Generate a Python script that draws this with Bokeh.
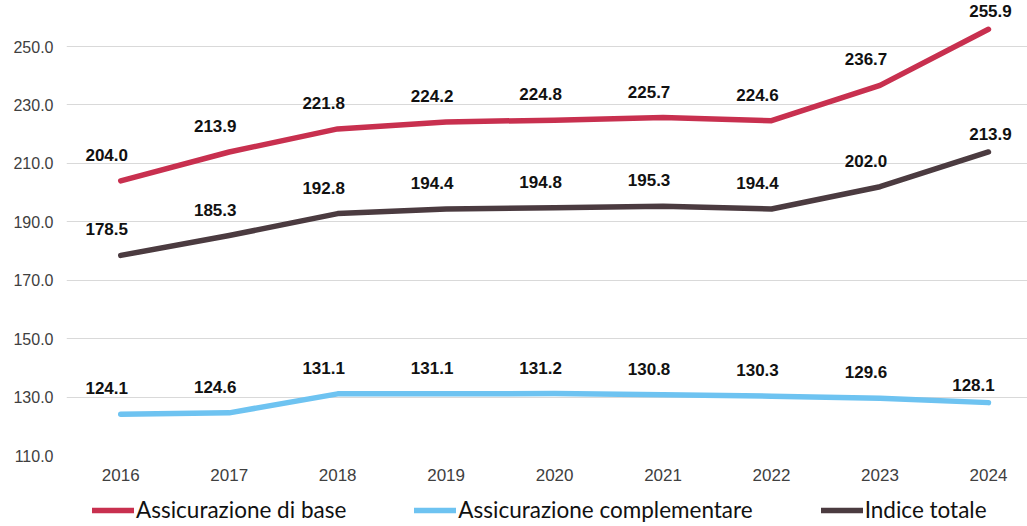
from bokeh.plotting import figure
from bokeh.layouts import column
from bokeh.models import (Legend, LegendItem, FixedTicker, NumeralTickFormatter,
                          Range1d, ColumnDataSource)
from bokeh.embed import file_html
from bokeh.resources import INLINE
from bokeh.core.properties import value

years = [2016, 2017, 2018, 2019, 2020, 2021, 2022, 2023, 2024]
base = [204.0, 213.9, 221.8, 224.2, 224.8, 225.7, 224.6, 236.7, 255.9]
complementare = [124.1, 124.6, 131.1, 131.1, 131.2, 130.8, 130.3, 129.6, 128.1]
totale = [178.5, 185.3, 192.8, 194.4, 194.8, 195.3, 194.4, 202.0, 213.9]
series_names = ["Assicurazione di base", "Assicurazione complementare", "Indice totale"]
y_ticks = [110, 130, 150, 170, 190, 210, 230, 250]

colors = ["#C8304F", "#6EC3F1", "#4B3B40"]
series = [base, complementare, totale]

W = 1027
p = figure(width=W, height=490, output_backend="svg", toolbar_location=None,
           x_range=Range1d(2015.5, 2024.36), y_range=Range1d(110, 265.75),
           min_border_left=66, min_border_right=0, min_border_top=0,
           min_border_bottom=35)
p.outline_line_color = None
p.background_fill_color = "white"
p.border_fill_color = "white"

p.xgrid.grid_line_color = None
p.ygrid.grid_line_color = "#D9D9D9"
p.ygrid.grid_line_width = 1
p.ygrid.ticker = FixedTicker(ticks=y_ticks)

p.yaxis.ticker = FixedTicker(ticks=y_ticks)
p.yaxis.formatter = NumeralTickFormatter(format="0.0")
p.xaxis.ticker = FixedTicker(ticks=years)
p.xaxis.formatter = NumeralTickFormatter(format="0")
for ax in (p.xaxis[0], p.yaxis[0]):
    ax.axis_line_color = None
    ax.major_tick_line_color = None
    ax.minor_tick_line_color = None
    ax.major_tick_out = 0
    ax.major_tick_in = 0
    ax.major_label_text_font = "Liberation Sans"
    ax.major_label_text_color = "#404040"
p.yaxis.major_label_text_font_size = "16px"
p.xaxis.major_label_text_font_size = "17px"
p.yaxis.major_label_standoff = 13
p.xaxis.major_label_standoff = 13

for i, (vals, col) in enumerate(zip(series, colors)):
    p.line(years, vals, line_color=col, line_width=5.5, line_cap="round",
           line_join="round")
    txt = [f"{v:.1f}" for v in vals]
    src_a = ColumnDataSource(dict(x=years[:-1], y=vals[:-1], t=txt[:-1]))
    src_b = ColumnDataSource(dict(x=years[-1:], y=vals[-1:], t=txt[-1:]))
    common = dict(text_align="center", text_baseline="middle",
                  text_font=value("Liberation Sans"), text_font_style="bold",
                  text_font_size="17px", text_color="#111111")
    p.text(x="x", y="y", text="t", source=src_a, x_offset=-14, y_offset=-26,
           **common)
    p.text(x="x", y="y", text="t", source=src_b,
           x_offset=(-15 if i == 1 else 2), y_offset=-18, **common)

# legend strip (its frame aligns with the main frame, starting at x=66)
lg = figure(width=W, height=36, output_backend="svg", toolbar_location=None,
            x_range=Range1d(0, 1), y_range=Range1d(0, 1),
            min_border_left=0, min_border_right=0, min_border_top=0,
            min_border_bottom=0)
lg.axis.visible = False
lg.grid.grid_line_color = None
lg.outline_line_color = None
items = []
for name, col in zip(series_names, colors):
    r = lg.line([-10, -9], [-10, -9], line_color=col, line_width=5.5,
                line_cap="round")
    items.append(LegendItem(label=name, renderers=[r]))
legend = Legend(items=items, orientation="horizontal", location=(26, 3),
                label_text_font="Lato", label_text_font_size="22.5px",
                label_text_color="#111111", glyph_width=42, glyph_height=22,
                label_height=22, label_standoff=2, spacing=68, padding=0,
                margin=0, border_line_color=None, background_fill_alpha=0)
lg.add_layout(legend, "center")

layout = column(p, lg, spacing=0)
open("out.html", "w").write(file_html(layout, INLINE))
